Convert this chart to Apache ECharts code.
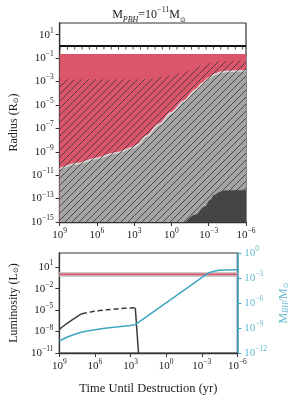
<!DOCTYPE html>
<html><head><meta charset="utf-8">
<script src="https://cdn.jsdelivr.net/npm/echarts@6/dist/echarts.min.js"></script>
<style>html,body{margin:0;padding:0;background:#fff}#c{width:298px;height:403px}</style>
</head><body><div id="c"></div>
<script>
// ---- tick labels (exponents of 10) ----
const xTickExps = [9, 6, 3, 0, -3, -6];
const radiusTickExps = [-15, -13, -11, -9, -7, -5, -3, -1, 1];
const lumTickExps = [-11, -8, -5, -2, 1];
const massTickExps = [-12, -9, -6, -3, 0];

// ---- top panel: radius (R_sun) vs time until destruction (yr) ----
const starTopT = [1e9, 1e-6];
const starTopR = [0.23, 0.23];
const surfaceT = [1e9, 1e-6];
const surfaceR = [1.1, 1.1];
const surfaceTickR = [0.72, 0.72];
const grayT = [1e9, 3.2e7, 1e6, 3.2e4, 1e3, 630, 100, 10, 1, 0.1, 0.01, 3.2e-3, 1e-3, 3.2e-4, 1e-4, 3.2e-5, 1e-5, 1e-6];
const grayR = [3.5e-11, 1e-10, 2.8e-10, 7.9e-10, 2.4e-9, 3.5e-9, 2.2e-8, 2.2e-7, 2.2e-6, 2.2e-5, 2.2e-4, 7e-4, 2e-3, 4.2e-3, 6.3e-3, 7.4e-3, 7.9e-3, 8.3e-3];
const hatchT = [1e9, 100, 1, 0.1, 0.01, 1.6e-3, 1e-4, 1e-6];
const hatchR = [1.6e-3, 1.6e-3, 3.2e-3, 6.3e-3, 0.016, 0.035, 0.056, 0.063];
const darkT = [0.069, 0.0126, 2e-3, 7.9e-4, 3.4e-4, 1.4e-4, 5.6e-5, 1e-5, 1e-6];
const darkR = [1e-15, 4e-15, 2e-14, 7.1e-14, 2e-13, 3.5e-13, 4.6e-13, 5e-13, 5.2e-13];

// ---- bottom panel ----
const starLumT = [1e9, 1e-6];
const starLum = [1, 1];
const bhLumT1 = [1e9, 3.2e8, 1e8, 3.2e7, 1.25e7];
const bhLum1 = [2e-8, 9e-8, 3.5e-7, 1.26e-6, 3.2e-6];
const bhLumT2 = [1.25e7, 1e6, 1e5, 1e4, 1e3, 400];
const bhLum2 = [3.2e-6, 7e-6, 1.1e-5, 1.6e-5, 2e-5, 2.2e-5];
const bhLumT3 = [400, 214];
const bhLum3 = [2.2e-5, 1e-11];
const massT = [1e9, 5.6e8, 3.2e8, 1e8, 3.2e7, 1e7, 1e6, 1e5, 1e4, 1e3, 400, 1e-3, 5e-4, 2.5e-4, 1e-4, 3.2e-5, 1e-5, 1e-6];
const massBH = [2.5e-11, 4.2e-11, 6.3e-11, 1.26e-10, 2.2e-10, 3.5e-10, 6.3e-10, 1e-9, 1.4e-9, 2e-9, 2.5e-9, 1.1e-3, 2.2e-3, 4.2e-3, 6.6e-3, 8.5e-3, 9.3e-3, 1e-2];

const FONT = "'Liberation Serif','DejaVu Serif',serif";
const RED = '#DB556B', GRAY = '#a4a4a4', DARK = '#454545', TEAL = '#3fa6c2', TEAL_L = '#66b9cf', INK = '#222';
const L = v => Math.log10(v);
const pts = (T, V) => T.map((t, i) => [L(t), L(V[i])]);
const supStr = e => (e < 0 ? '\u2212' + (-e) : '' + e);
const pow = e => '{b|10}{s|' + supStr(e) + '}';
const rich = (c) => ({
  b: {fontFamily: FONT, fontSize: 11, lineHeight: 16, color: c},
  s: {fontFamily: FONT, fontSize: 7.5, lineHeight: 8, verticalAlign: 'top', color: c}
});

function hatchCanvas() {
  const c = document.createElement('canvas'); c.width = 7; c.height = 7;
  const g = c.getContext('2d'); g.strokeStyle = '#363636'; g.lineWidth = 0.8;
  g.beginPath();
  g.moveTo(0, 7); g.lineTo(7, 0);
  g.moveTo(-1, 1); g.lineTo(1, -1);
  g.moveTo(6, 8); g.lineTo(8, 6);
  g.stroke();
  return c;
}

const xAxisBase = (gi, withName) => ({
  gridIndex: gi, type: 'value', min: -6, max: 9, inverse: true, interval: 3,
  splitLine: {show: false},
  axisLine: {show: true, onZero: false, lineStyle: {color: '#333', width: 1.3}},
  axisTick: {show: true, length: 4, customValues: xTickExps, lineStyle: {color: '#333'}},
  axisLabel: {margin: 5, customValues: xTickExps, formatter: v => pow(v), rich: rich(INK)},
  name: withName ? 'Time Until Destruction (yr)' : '',
  nameLocation: 'middle', nameGap: 29,
  nameTextStyle: {fontFamily: FONT, fontSize: 12.5, color: INK}
});

const line = (xi, yi, data, opt) => Object.assign({
  type: 'line', xAxisIndex: xi, yAxisIndex: yi, data: data, symbol: 'none',
  showSymbol: false, animation: false, silent: true
}, opt);

const hatchPattern = {image: hatchCanvas(), repeat: 'repeat'};

const option = {
  animation: false,
  title: {
    text: 'M{sub|PBH}=10{sup|\u221211}M{sub2|\u2299}', left: 'center', top: 1,
    textStyle: {fontFamily: FONT, fontSize: 12, fontWeight: 'normal', color: INK, lineHeight: 18,
      rich: {
        sub: {fontFamily: FONT, fontSize: 8, fontStyle: 'italic', lineHeight: 8, verticalAlign: 'bottom', color: INK},
        sub2: {fontFamily: 'DejaVu Sans', fontSize: 7, lineHeight: 8, verticalAlign: 'bottom', color: INK},
        sup: {fontFamily: FONT, fontSize: 8, lineHeight: 8, verticalAlign: 'top', color: INK}
      }}
  },
  grid: [
    {left: 52, top: 23, width: 194, height: 199, show: true, borderColor: '#333', borderWidth: 1.2, backgroundColor: 'transparent'},
    {left: 52, top: 253, width: 194, height: 100, show: true, borderColor: '#333', borderWidth: 1.2, backgroundColor: 'transparent'}
  ],
  xAxis: [xAxisBase(0, false), xAxisBase(1, true)],
  yAxis: [
    {gridIndex: 0, type: 'value', min: -15, max: 2, splitLine: {show: false},
      axisLine: {show: true, onZero: false, lineStyle: {color: '#333', width: 1.3}},
      axisTick: {show: true, length: 4, customValues: radiusTickExps, lineStyle: {color: '#333'}},
      axisLabel: {margin: 6, customValues: radiusTickExps, formatter: v => pow(v), rich: rich(INK)},
      name: 'Radius (R{s|\u2299})', nameLocation: 'middle', nameGap: 34, nameRotate: 90,
      nameTextStyle: {fontFamily: FONT, fontSize: 12, color: INK,
        rich: {s: {fontFamily: 'DejaVu Sans', fontSize: 7, verticalAlign: 'bottom', lineHeight: 8}}}},
    {gridIndex: 1, type: 'value', min: -11, max: 3, splitLine: {show: false},
      axisLine: {show: true, onZero: false, lineStyle: {color: '#333', width: 1.3}},
      axisTick: {show: true, length: 4, customValues: lumTickExps, lineStyle: {color: '#333'}},
      axisLabel: {margin: 6, customValues: lumTickExps, formatter: v => pow(v), rich: rich(INK)},
      name: 'Luminosity (L{s|\u2299})', nameLocation: 'middle', nameGap: 34, nameRotate: 90,
      nameTextStyle: {fontFamily: FONT, fontSize: 12, color: INK,
        rich: {s: {fontFamily: 'DejaVu Sans', fontSize: 7, verticalAlign: 'bottom', lineHeight: 8}}}},
    {gridIndex: 1, type: 'value', position: 'right', min: -12, max: 0, interval: 3, splitLine: {show: false},
      axisLine: {show: true, onZero: false, lineStyle: {color: TEAL, width: 1.6}},
      axisTick: {show: true, length: 4, customValues: massTickExps, lineStyle: {color: TEAL}},
      axisLabel: {margin: 7, customValues: massTickExps, formatter: v => pow(v), rich: rich(TEAL_L)},
      name: 'M{s|BH}/M{s2|\u2299}', nameLocation: 'middle', nameGap: 34, nameRotate: 90,
      nameTextStyle: {fontFamily: FONT, fontSize: 12, color: TEAL_L,
        rich: {s: {fontFamily: FONT, fontSize: 8, fontStyle: 'italic', verticalAlign: 'bottom', lineHeight: 8, color: TEAL_L},
               s2: {fontFamily: 'DejaVu Sans', fontSize: 7, verticalAlign: 'bottom', lineHeight: 8, color: TEAL_L}}}}
  ],
  series: [
    // top panel
    line(0, 0, pts(starTopT, starTopR), {z: 1, lineStyle: {width: 0}, areaStyle: {color: RED, opacity: 1, origin: 'start'}}),
    line(0, 0, pts(grayT, grayR), {z: 2, smooth: 0.3, smoothMonotone: 'x', lineStyle: {width: 1.6, color: '#dadada'}, areaStyle: {color: GRAY, opacity: 1, origin: 'start'}}),
    line(0, 0, pts(hatchT, hatchR), {z: 3, smooth: 0.3, smoothMonotone: 'x', lineStyle: {width: 0}, areaStyle: {color: hatchPattern, opacity: 1, origin: 'start'}}),
    line(0, 0, pts(darkT, darkR), {z: 4, smooth: 0.4, smoothMonotone: 'x', lineStyle: {width: 0.5, color: DARK}, areaStyle: {color: DARK, opacity: 1, origin: 'start'}}),
    line(0, 0, pts(surfaceT, surfaceR), {z: 5, lineStyle: {width: 2, color: '#111'}}),
    line(0, 0, pts(surfaceT, surfaceTickR), {z: 5, lineStyle: {width: 3, color: '#444', type: [1, 6.3]}}),
    // bottom panel
    line(1, 1, pts(starLumT, starLum), {z: 2, lineStyle: {width: 5, color: '#c9c9c9'}}),
    line(1, 1, pts(starLumT, starLum), {z: 3, lineStyle: {width: 1.8, color: RED}}),
    line(1, 1, pts(bhLumT1, bhLum1), {z: 4, smooth: 0.3, lineStyle: {width: 1.5, color: '#3a3a3a'}}),
    line(1, 1, pts(bhLumT2, bhLum2), {z: 4, smooth: 0.3, lineStyle: {width: 1.5, color: '#3a3a3a', type: [5, 3]}}),
    line(1, 1, pts(bhLumT3, bhLum3), {z: 4, lineStyle: {width: 1.5, color: '#3a3a3a'}}),
    line(1, 2, pts(massT, massBH), {z: 5, smooth: false, lineStyle: {width: 1.5, color: TEAL}})
  ]
};

const chart = echarts.init(document.getElementById('c'), null, {renderer: 'canvas'});
chart.setOption(option);
</script></body></html>
